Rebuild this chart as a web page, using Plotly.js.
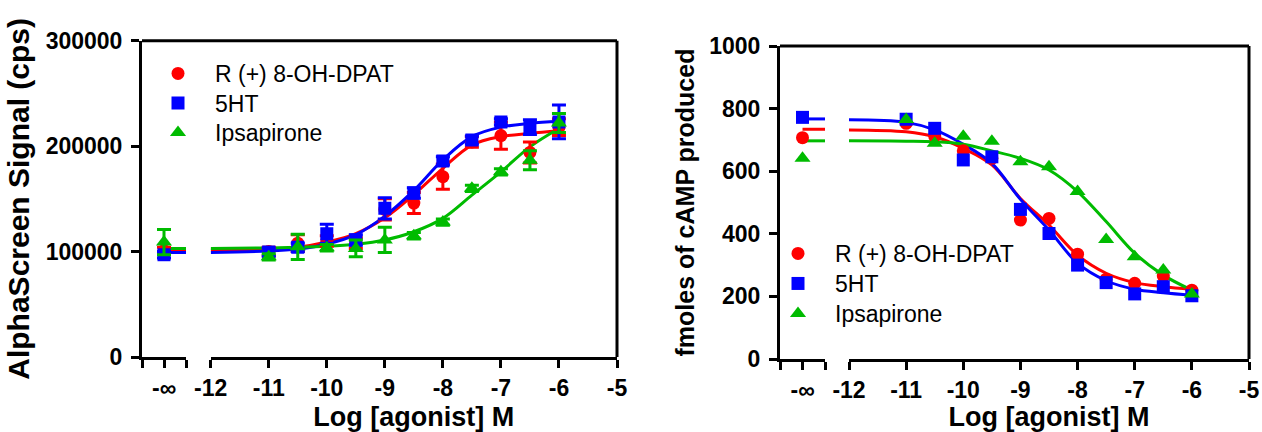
<!DOCTYPE html>
<html>
<head>
<meta charset="utf-8">
<script src="https://cdn.plot.ly/plotly-3.0.1.min.js"></script>
<style>html,body{margin:0;padding:0;background:#fff;}#chart{width:1262px;height:432px;}</style>
</head>
<body>
<div id="chart"></div>
<script>
// ---------- DATA ----------
const seriesNames = ["R (+) 8-OH-DPAT", "5HT", "Ipsapirone"];
const doses = [-11, -10.5, -10, -9.5, -9, -8.5, -8, -7.5, -7, -6.5, -6];
const curveX = [-12, -11, -10.5, -10, -9.5, -9, -8.5, -8, -7.5, -7, -6.5, -6];
const basalX = [0];
const basalLineXLeft = [-0.2, 1];
const basalLineXRight = [0, 1];

// Left panel: AlphaScreen signal (cps)
const dpatAlpha = [100000, 108000, 110000, 108000, 140000, 146000, 171000, 204000, 210000, 194000, 218000];
const dpatAlphaErr = [4000, 8000, 5000, 5000, 10000, 10000, 12000, 5000, 13000, 10000, 8000];
const htAlpha = [99500, 104000, 117000, 111000, 141000, 155500, 186000, 205700, 223000, 218000, 223000];
const htAlphaErr = [4000, 4000, 9000, 5000, 10000, 5000, 4000, 4000, 3000, 7000, 16000];
const ipsAlpha = [95000, 104500, 103600, 103000, 111000, 115000, 128000, 160000, 175600, 186700, 222000];
const ipsAlphaErr = [3000, 12000, 3000, 8000, 12000, 3000, 3000, 3000, 3000, 9000, 9000];
const dpatAlphaBasal = [101000], dpatAlphaBasalErr = [3000];
const htAlphaBasal = [97000], htAlphaBasalErr = [3000];
const ipsAlphaBasal = [109000], ipsAlphaBasalErr = [12000];
const dpatAlphaCurve = [101500, 102000, 104000, 109000, 117000, 132000, 154000, 179000, 201000, 209000, 212000, 214500];
const htAlphaCurve = [99000, 100500, 102500, 107000, 116000, 133600, 158000, 187000, 209000, 218000, 221500, 223500];
const ipsAlphaCurve = [103000, 103500, 104000, 105000, 107000, 111000, 118800, 131500, 153500, 175600, 199300, 216700];
const dpatAlphaPlateau = [101500, 101500];
const htAlphaPlateau = [99000, 99000];
const ipsAlphaPlateau = [103000, 103000];

// Right panel: fmoles of cAMP produced
const dpatCamp = [753, 712, 665, 641, 444, 449, 335, 255, 242, 265, 220];
const htCamp = [766, 737, 636, 646, 478, 401, 300, 244, 208, 231, 202];
const ipsCamp = [765, 689, 712, 696, 630, 614, 535, 382, 327, 284, 208];
const dpatCampBasal = [707], htCampBasal = [772], ipsCampBasal = [641];
const dpatCampCurve = [732, 726, 710, 673, 620, 513, 428, 332, 274, 244, 231, 223];
const htCampCurve = [764, 756, 732, 686, 625, 510, 412, 306, 250, 223, 212, 204];
const ipsCampCurve = [697, 696, 694, 686, 665, 641, 604, 535, 439, 338, 268, 220];
const dpatCampPlateau = [734, 734];
const htCampPlateau = [767, 767];
const ipsCampPlateau = [697, 697];

const leftYTicks = [0, 100000, 200000, 300000];
const rightYTicks = [0, 200, 400, 600, 800, 1000];
const mainXTicks = [-12, -11, -10, -9, -8, -7, -6, -5];
const breakTickVals = [-1, 0, 1];
const breakTickText = ["", "-\u221e", ""];

// ---------- STYLE ----------
const colors = ["#ff0000", "#0000ff", "#00bb00"];
const symbols = ["circle", "square", "triangle-up"];
const FONT = "Liberation Sans, Arial, sans-serif";
const W = 1262, H = 432;
const px = v => v / W;
const py = v => 1 - v / H;

const L = { brk: [px(142), px(186)], main: [px(210.7), px(617)], y: [py(357), py(40.7)] };
const R = { brk: [px(780), px(825)], main: [px(849), px(1249)], y: [py(359), py(46)] };

// legend row centres (px) for each panel
const legRowsL = [72, 101.5, 131];
const legRowsR = [252, 282, 312];

const traces = [];
function addPanel(xb, xm, ya, legIds, curves, plateaus, plateauX, pts, errs, basals, basalErrs) {
  for (let i = 0; i < 3; i++) {
    traces.push({ x: curveX, y: curves[i], xaxis: xm, yaxis: ya, mode: "lines", line: { color: colors[i], width: 3, shape: "spline", smoothing: 1 }, showlegend: false, hoverinfo: "skip" });
    traces.push({ x: plateauX, y: plateaus[i], xaxis: xb, yaxis: ya, mode: "lines", line: { color: colors[i], width: 3 }, showlegend: false, hoverinfo: "skip" });
  }
  for (let i = 0; i < 3; i++) {
    const mk = { color: colors[i], symbol: symbols[i], size: symbols[i] === "triangle-up" ? 14 : 13 };
    const eb = errs ? { type: "data", array: errs[i], color: colors[i], thickness: 3, width: 7, visible: true } : { visible: false };
    const ebb = basalErrs ? { type: "data", array: basalErrs[i], color: colors[i], thickness: 3, width: 7, visible: true } : { visible: false };
    traces.push({ x: doses, y: pts[i], xaxis: xm, yaxis: ya, mode: "markers", name: seriesNames[i], marker: mk, error_y: eb, legend: legIds[i], showlegend: true });
    traces.push({ x: basalX, y: basals[i], xaxis: xb, yaxis: ya, mode: "markers", name: seriesNames[i], marker: mk, error_y: ebb, showlegend: false });
  }
}
addPanel("x", "x2", "y", ["legend", "legend2", "legend3"],
  [dpatAlphaCurve, htAlphaCurve, ipsAlphaCurve],
  [dpatAlphaPlateau, htAlphaPlateau, ipsAlphaPlateau], basalLineXLeft,
  [dpatAlpha, htAlpha, ipsAlpha], [dpatAlphaErr, htAlphaErr, ipsAlphaErr],
  [dpatAlphaBasal, htAlphaBasal, ipsAlphaBasal], [dpatAlphaBasalErr, htAlphaBasalErr, ipsAlphaBasalErr]);
addPanel("x3", "x4", "y2", ["legend4", "legend5", "legend6"],
  [dpatCampCurve, htCampCurve, ipsCampCurve],
  [dpatCampPlateau, htCampPlateau, ipsCampPlateau], basalLineXRight,
  [dpatCamp, htCamp, ipsCamp], null,
  [dpatCampBasal, htCampBasal, ipsCampBasal], null);

const tickFont = { family: FONT, size: 23, color: "#000", weight: "bold" };
const titleFont = { family: FONT, size: 27, color: "#000", weight: "bold" };
const axBase = { showgrid: false, zeroline: false, showline: true, linecolor: "#000", linewidth: 3, ticks: "outside", ticklen: 8, tickwidth: 3, tickcolor: "#000", tickfont: tickFont, fixedrange: true };

function xBreak(dom, ya) {
  return Object.assign({}, axBase, { domain: dom, anchor: ya, range: [-1, 1], tickmode: "array", tickvals: breakTickVals, ticktext: breakTickText });
}
function xMain(dom, ya) {
  return Object.assign({}, axBase, { domain: dom, anchor: ya, range: [-12, -5], tickmode: "array", tickvals: mainXTicks, ticktext: mainXTicks.map(String),
    title: { text: "Log [agonist] M", font: titleFont, standoff: 10 } });
}

const frame = (d) => [
  { type: "line", xref: "paper", yref: "paper", x0: d.brk[0], x1: d.main[1], y0: d.y[1], y1: d.y[1], line: { color: "#000", width: 3 } },
  { type: "line", xref: "paper", yref: "paper", x0: d.main[1], x1: d.main[1], y0: d.y[0], y1: d.y[1], line: { color: "#000", width: 3 } }
];

function legendAt(xPx, rowPx) {
  return { x: px(xPx), y: py(rowPx - 20), xanchor: "left", yanchor: "top", bgcolor: "rgba(0,0,0,0)", font: { family: FONT, size: 23, color: "#000" }, itemwidth: 64, tracegroupgap: 0 };
}

const layout = {
  width: W, height: H,
  margin: { l: 0, r: 0, t: 0, b: 0 },
  paper_bgcolor: "#fff", plot_bgcolor: "rgba(0,0,0,0)",
  font: { family: FONT, color: "#000" },
  xaxis: xBreak(L.brk, "y"),
  xaxis2: xMain(L.main, "y"),
  xaxis3: xBreak(R.brk, "y2"),
  xaxis4: xMain(R.main, "y2"),
  yaxis: Object.assign({}, axBase, { domain: L.y, anchor: "x", range: [0, 300000], tickmode: "array", tickvals: leftYTicks, ticktext: leftYTicks.map(String), ticklabelstandoff: 4,
    title: { text: "AlphaScreen Signal (cps)", font: Object.assign({}, titleFont, { size: 30 }), standoff: 8 } }),
  yaxis2: Object.assign({}, axBase, { domain: R.y, anchor: "x3", range: [0, 1000], tickmode: "array", tickvals: rightYTicks, ticktext: rightYTicks.map(String), ticklabelstandoff: 4,
    title: { text: "fmoles of cAMP produced", font: Object.assign({}, titleFont, { size: 25 }), standoff: 8 } }),
  legend: legendAt(141, legRowsL[0]),
  legend2: legendAt(141, legRowsL[1]),
  legend3: legendAt(141, legRowsL[2]),
  legend4: legendAt(761, legRowsR[0]),
  legend5: legendAt(761, legRowsR[1]),
  legend6: legendAt(761, legRowsR[2]),
  shapes: frame(L).concat(frame(R)),
  showlegend: true
};

Plotly.newPlot("chart", traces, layout, { displayModeBar: false, staticPlot: true });
</script>
</body>
</html>
